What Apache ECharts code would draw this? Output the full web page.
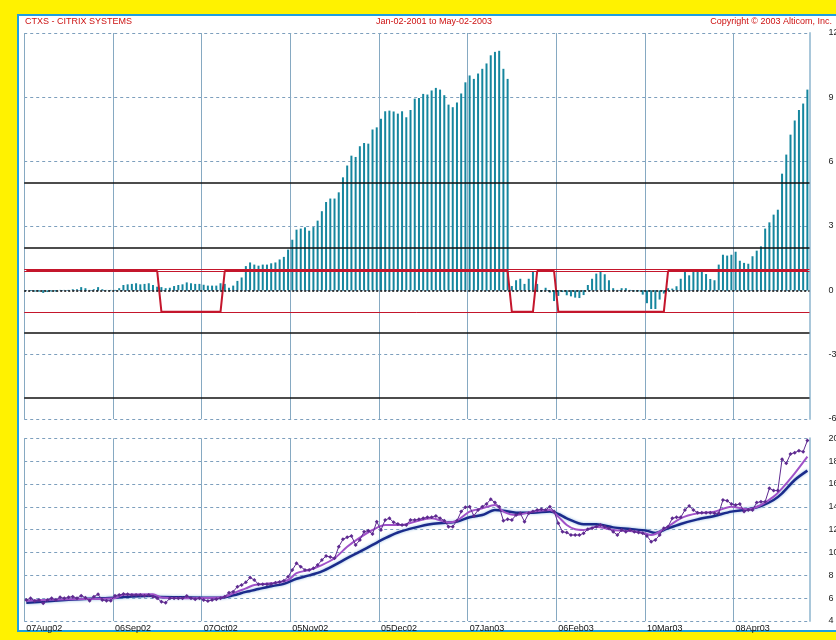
<!DOCTYPE html>
<html>
<head>
<meta charset="utf-8">
<script src="https://cdn.jsdelivr.net/npm/echarts@6/dist/echarts.min.js"></script>
<style>
  html, body { margin: 0; padding: 0; background: #fff200; }
  #chart { width: 836px; height: 640px; }
</style>
</head>
<body>
<div id="chart"></div>
<script>
// tick labels on the date axis, one every 21 trading days
const tickLabels = ["07Aug02", "06Sep02", "07Oct02", "05Nov02", "05Dec02", "07Jan03", "06Feb03", "10Mar03", "08Apr03"];
const tickStep = 21;

// oscillator histogram (top panel), one bar per trading day
const oscValues = [
  0, -0.03, -0.06, -0.06, -0.12, -0.08, -0.06, -0.06, 0.02, 0.02,
  0.02, 0.05, 0.05, 0.15, 0.1, 0.02, 0.05, 0.15, 0.05, 0.02,
  0.02, 0.02, 0.1, 0.25, 0.28, 0.3, 0.33, 0.28, 0.3, 0.33,
  0.25, 0.17, 0.15, 0.1, 0.12, 0.2, 0.25, 0.28, 0.37, 0.33,
  0.3, 0.3, 0.26, 0.22, 0.22, 0.22, 0.33, 0.3, 0.12, 0.22,
  0.44, 0.6, 1.13, 1.3, 1.2, 1.15, 1.2, 1.2, 1.26, 1.3,
  1.44, 1.56, 1.9, 2.36, 2.83, 2.88, 2.94, 2.78, 2.95, 3.25,
  3.69, 4.12, 4.28, 4.28, 4.57, 5.27, 5.82, 6.28, 6.22, 6.72,
  6.87, 6.84, 7.5, 7.6, 8.0, 8.35, 8.38, 8.34, 8.24, 8.35,
  8.07, 8.41, 8.94, 8.97, 9.16, 9.13, 9.32, 9.44, 9.36, 9.1,
  8.66, 8.54, 8.76, 9.18, 9.7, 10.02, 9.86, 10.11, 10.33, 10.58,
  10.96, 11.12, 11.17, 10.33, 9.86, 0.2, 0.47, 0.54, 0.3, 0.54,
  0.87, 0.3, -0.06, 0.12, -0.1, -0.5, -0.26, -0.08, -0.23, -0.28,
  -0.34, -0.36, -0.22, 0.25, 0.54, 0.78, 0.86, 0.75, 0.47, 0.1,
  0.02, 0.1, 0.1, 0.02, -0.05, -0.05, -0.2, -0.6, -0.87, -0.87,
  -0.43, -0.15, 0.1, 0.08, 0.19, 0.54, 0.96, 0.7, 0.96, 0.92,
  0.96, 0.76, 0.53, 0.47, 1.2, 1.66, 1.62, 1.66, 1.8, 1.38,
  1.28, 1.24, 1.59, 1.85, 2.05, 2.88, 3.17, 3.53, 3.76, 5.44,
  6.33, 7.26, 7.92, 8.41, 8.71, 9.36
];

// signal line: [first index, last index, level]
const signalRuns = [[0, 31, 0.9], [32, 46, -1], [47, 114, 0.9], [115, 120, -1], [121, 125, 0.9], [126, 151, -1], [152, 185, 0.9]];
const blackLevels = [5, 2, -2, -5];
const redLevels = [1, 0.9, -1];

// closing price (bottom panel)
const closePrice = [
  5.84, 5.99, 5.75, 5.84, 5.55, 5.84, 5.99, 5.84, 6.07, 5.99,
  6.07, 6.13, 5.99, 6.22, 6.04, 5.78, 6.13, 6.34, 5.84, 5.78,
  5.78, 6.22, 6.28, 6.36, 6.34, 6.28, 6.28, 6.28, 6.22, 6.28,
  6.13, 5.99, 5.69, 5.6, 5.99, 5.99, 5.99, 5.99, 6.19, 5.99,
  5.9, 5.99, 5.84, 5.75, 5.84, 5.9, 5.99, 6.13, 6.48, 6.57,
  7.01, 7.15, 7.39, 7.8, 7.6, 7.21, 7.21, 7.21, 7.24, 7.36,
  7.42, 7.53, 7.88, 8.47, 9.05, 8.76, 8.47, 8.47, 8.61, 8.9,
  9.34, 9.69, 9.6, 9.49, 10.5, 11.15, 11.33, 11.45, 10.66, 11.1,
  11.82, 11.91, 11.62, 12.7, 11.97, 12.85, 12.99, 12.64, 12.5, 12.41,
  12.41, 12.85,
  12.85, 12.9, 13.0, 13.08, 13.08, 13.2, 13.0, 12.79, 12.26, 12.26,
  12.79, 13.58, 13.96, 14.01, 13.2, 13.72, 14.01, 14.25, 14.66, 14.37,
  14.01, 12.79, 12.9, 12.85, 13.28, 13.43, 12.7, 13.43, 13.58, 13.72,
  13.78, 13.72, 14.01, 13.58, 12.56, 11.82, 11.74, 11.53, 11.53, 11.53,
  11.68, 12.03, 12.12, 12.26, 12.41, 12.26, 12.12, 11.82, 11.53, 11.97,
  11.82, 11.97, 11.82, 11.74, 11.68, 11.45, 10.95, 11.1, 11.53, 12.12,
  12.26, 12.99, 13.08, 13.08, 13.72, 14.07, 13.72, 13.49, 13.49, 13.49,
  13.49, 13.43, 13.43, 14.6, 14.54, 14.25, 14.16, 14.25, 13.58, 13.72,
  13.72, 14.37, 14.45, 14.45, 15.62, 15.42, 15.42, 18.16, 17.81, 18.63,
  18.74, 18.92, 18.83, 19.8
];

// moving averages as [day index, value]
const fastAvg = [[0,5.78],[10,5.9],[21,5.99],[23,6.3],[30,6.34],[32,6.05],[38,6.0],[46,6.05],[49,6.42],[52,6.86],[54,7.15],[58,7.3],[62,7.59],[64,8.2],[67,8.47],[70,8.9],[73,9.49],[76,10.5],[79,11.3],[82,11.97],[85,12.41],[89,12.41],[92,12.7],[96,13.0],[100,12.62],[102,12.79],[105,13.58],[108,13.87],[111,14.16],[113,13.58],[116,13.28],[120,13.58],[124,13.72],[126,13.14],[128,12.41],[130,12.03],[132,11.97],[135,12.26],[139,11.97],[143,11.88],[146,11.74],[148,11.53],[151,12.03],[155,12.99],[159,13.43],[163,13.58],[167,14.01],[171,13.78],[174,14.16],[177,14.89],[179,15.62],[182,16.93],[185,18.39]];
const slowAvg = [[0,5.6],[5,5.72],[10,5.85],[15,5.95],[21,6.04],[25,6.15],[30,6.22],[31,6.13],[36,6.08],[42,6.04],[46,6.04],[49,6.25],[52,6.55],[55,6.8],[58,7.05],[61,7.25],[64,7.7],[67,8.0],[70,8.35],[73,8.9],[76,9.5],[79,10.07],[82,10.66],[85,11.25],[88,11.75],[92,12.18],[96,12.5],[100,12.62],[102,12.7],[105,13.08],[108,13.28],[111,13.72],[113,13.66],[116,13.49],[120,13.49],[124,13.58],[126,13.37],[128,12.99],[132,12.47],[135,12.47],[139,12.2],[143,12.06],[147,11.9],[149,11.7],[151,11.97],[155,12.5],[159,12.9],[163,13.2],[167,13.58],[171,13.78],[174,14.07],[177,14.6],[179,15.18],[182,16.35],[185,17.17]];

const days = oscValues.map((v, i) => i);
const signal = [];
signalRuns.forEach(([a, b, lvl]) => { for (let i = a; i <= b; i++) signal.push(lvl); });

const gridColor = "#86a9c2";
const font = "Liberation Sans";
const isTick = (i) => i % tickStep === 0;

const chart = echarts.init(document.getElementById("chart"));

const xCommon = {
  type: "category",
  data: days,
  boundaryGap: true,
  axisLine: { show: false },
  axisTick: { show: false },
  splitLine: { show: true, interval: (i) => isTick(i), lineStyle: { color: gridColor, width: 1 } },
};

const yCommon = {
  type: "value",
  position: "right",
  axisLine: { show: true, lineStyle: { color: "#a9c7da", width: 2 } },
  axisTick: { show: false },
  axisLabel: { fontSize: 9, color: "#222", fontFamily: font, margin: 19, align: "left" },
  splitLine: { show: true, lineStyle: { color: "#7d9fbd", type: [3, 3], width: 1 } },
};

const refLines = [];
blackLevels.forEach((v) => refLines.push({ yAxis: v, lineStyle: { color: "#111", width: 1.6, type: "solid" } }));
refLines.push({ yAxis: 0, lineStyle: { color: "#111", width: 1.6, type: [2, 2] } });
redLevels.forEach((v) => refLines.push({ yAxis: v, lineStyle: { color: "#c4162c", width: 1, type: "solid" } }));

chart.setOption({
  animation: false,
  backgroundColor: "#fff200",
  graphic: [
    { type: "rect", z: -10, shape: { x: 18, y: 15, width: 830, height: 616 }, style: { fill: "#ffffff", stroke: "#1e9fe0", lineWidth: 2 } },
    { type: "text", left: 25, top: 17, style: { text: "CTXS - CITRIX SYSTEMS", fill: "#cc1111", font: "9px " + font } },
    { type: "text", left: 376, top: 17, style: { text: "Jan-02-2001 to May-02-2003", fill: "#cc1111", font: "9px " + font } },
    { type: "text", right: 4, top: 17, style: { text: "Copyright \u00a9 2003 Alticom, Inc.", fill: "#cc1111", font: "9px " + font } },
  ],
  grid: [
    { left: 24.2, top: 33, width: 785.3, height: 386, outerBoundsMode: "none" },
    { left: 24.2, top: 438.3, width: 785.3, height: 182.7, outerBoundsMode: "none" },
  ],
  xAxis: [
    Object.assign({}, xCommon, { gridIndex: 0, axisLabel: { show: false } }),
    Object.assign({}, xCommon, {
      gridIndex: 1,
      axisLabel: {
        show: true,
        interval: (i) => isTick(i),
        formatter: (v, i) => tickLabels[i / tickStep] || "",
        align: "left",
        fontSize: 9,
        color: "#111",
        fontFamily: font,
        margin: 3,
      },
    }),
  ],
  yAxis: [
    Object.assign({}, yCommon, { gridIndex: 0, min: -6, max: 12, interval: 3 }),
    Object.assign({}, yCommon, { gridIndex: 1, min: 4, max: 20, interval: 2 }),
  ],
  series: [
    {
      type: "bar",
      xAxisIndex: 0,
      yAxisIndex: 0,
      data: oscValues,
      barWidth: 2,
      itemStyle: { color: "#15869e" },
      z: 2,
    },
    {
      type: "line",
      xAxisIndex: 0,
      yAxisIndex: 0,
      data: signal,
      symbol: "none",
      lineStyle: { color: "#c4162c", width: 2 },
      z: 4,
      markLine: { silent: true, symbol: "none", label: { show: false }, data: refLines },
    },
    {
      type: "line",
      xAxisIndex: 1,
      yAxisIndex: 1,
      data: slowAvg,
      symbol: "none",
      smooth: 0.3,
      lineStyle: { color: "#1b2b8b", width: 2.5, shadowColor: "#8fb8e0", shadowBlur: 3 },
      z: 3,
    },
    {
      type: "line",
      xAxisIndex: 1,
      yAxisIndex: 1,
      data: fastAvg,
      symbol: "none",
      smooth: 0.3,
      lineStyle: { color: "#a052c8", width: 2 },
      z: 4,
    },
    {
      type: "line",
      xAxisIndex: 1,
      yAxisIndex: 1,
      data: closePrice,
      symbol: "diamond",
      symbolSize: 4,
      showAllSymbol: true,
      lineStyle: { color: "#5e2a90", width: 1 },
      itemStyle: { color: "#5e2a90" },
      z: 5,
    },
  ],
});
</script>
</body>
</html>
